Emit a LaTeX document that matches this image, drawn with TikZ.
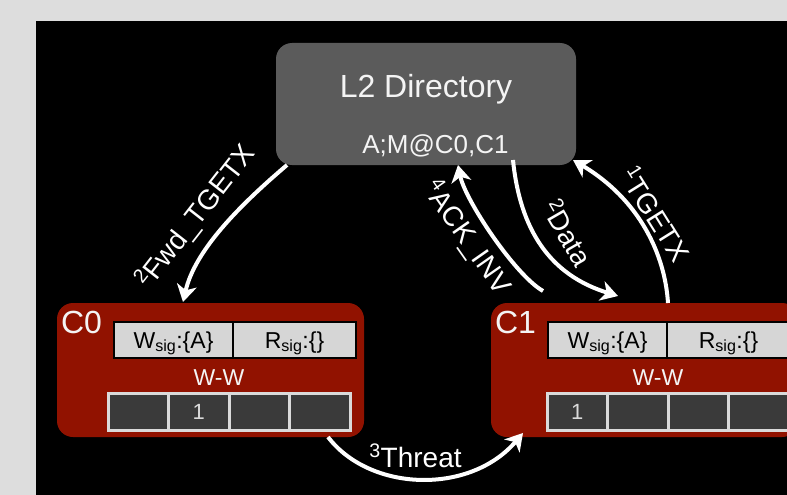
\documentclass[tikz,border=0pt]{standalone}
\usepackage{fontspec}
\setmainfont{Liberation Sans}
\usetikzlibrary{arrows.meta,calc}

\definecolor{pagegray}{HTML}{DDDDDD}
\definecolor{dirgray}{HTML}{5B5B5B}
\definecolor{corered}{RGB}{145,18,0}
\definecolor{sigfill}{HTML}{D6D6D6}
\definecolor{cellfill}{HTML}{3A3A3A}
\definecolor{cellline}{HTML}{DADADA}
\definecolor{softwhite}{HTML}{F4F4F4}

\begin{document}
\begin{tikzpicture}[x=1pt,y=-1pt,
  every node/.style={inner sep=0pt, outer sep=0pt},
  dirbox/.style={fill=dirgray, rounded corners=16pt, minimum width=300pt, minimum height=122pt},
  corebox/.style={fill=corered, rounded corners=16pt, minimum width=307pt, minimum height=134pt},
  sigbox/.style={draw=black, line width=2pt, fill=sigfill, minimum height=36pt,
    text height=16.5pt, text depth=0pt, font=\fontsize{23}{25}\selectfont},
  cell/.style={draw=cellline, line width=3pt, fill=cellfill, minimum width=60.5pt,
    minimum height=37pt, text=cellline, font=\fontsize{22}{24}\selectfont},
  whitetext/.style={text=softwhite},
  msg/.style={draw=white, line width=4pt, -{Stealth[length=17pt,width=20pt,inset=5pt]}},
  msglabel/.style={text=white, font=\fontsize{28}{30}\selectfont},
]
\useasboundingbox (0,0) rectangle (787,495);
\clip (0,0) rectangle (787,495);

% page and slide background
\fill[pagegray] (0,0) rectangle (787,495);
\fill[black] (36,21) rectangle (787,495);

% directory and the two cores
\node[dirbox] (l2) at (426,104) {};
\node[corebox] (c0) at (210.5,370) {};
\node[corebox] (c1) at (644.5,370) {};

% directory text
\node[whitetext, anchor=base, font=\fontsize{32}{34}\selectfont] (l2title) at (426,97) {L2 Directory};
\node[whitetext, anchor=base, font=\fontsize{26}{28}\selectfont] (l2state) at (435.5,153) {A;M@C0,C1};

% core C0
\node[whitetext, anchor=base west, font=\fontsize{32}{34}\selectfont] (c0name) at (61,333) {C0};
\node[sigbox, minimum width=119pt] (c0w) at (173.5,340) {W\textsubscript{sig}:\{A\}};
\node[sigbox, minimum width=123pt] (c0r) at (294.5,340) {R\textsubscript{sig}:\{\}};
\node[whitetext, anchor=base, font=\fontsize{23}{25}\selectfont] (c0mode) at (219,385) {W-W};
\node[cell] (c0a) at (138.25,411.5) {};
\node[cell] (c0b) at (198.75,411.5) {1};
\node[cell] (c0c) at (259.25,411.5) {};
\node[cell] (c0d) at (319.75,411.5) {};

% core C1
\node[whitetext, anchor=base west, font=\fontsize{32}{34}\selectfont] (c1name) at (495,333) {C1};
\node[sigbox, minimum width=119pt] (c1w) at (607.5,340) {W\textsubscript{sig}:\{A\}};
\node[sigbox, minimum width=123pt] (c1r) at (728.5,340) {R\textsubscript{sig}:\{\}};
\node[whitetext, anchor=base, font=\fontsize{23}{25}\selectfont] (c1mode) at (658,385) {W-W};
\node[cell] (c1a) at (577.25,411.5) {1};
\node[cell] (c1b) at (637.75,411.5) {};
\node[cell] (c1c) at (698.25,411.5) {};
\node[cell] (c1d) at (758.75,411.5) {};

% messages
\draw[msg] ($(l2.south west)+(11,0)$) .. controls (240,205) and (195,250) .. ($(c0.north)+(-27.5,-1)$);
\draw[msg] ($(c1.north west)+(52,-12)$) .. controls (515,275) and (465,200) .. ($(l2.south)+(32,0)$);
\draw[msg] ($(l2.south)+(87,-5)$) .. controls (520,230) and (550,275) .. ($(c1.north)+(-26.5,-7)$);
\draw[msg] ($(c1.north)+(23.5,0)$) .. controls (665,255) and (640,200) .. ($(l2.south east)+(-3,-5)$);
\draw[msg] ($(c0.south)+(117.5,0)$) .. controls (370,492) and (470,495) .. ($(c1.south west)+(32,-4)$);

% message labels
\node[msglabel, rotate=52] (lfwd) at (196,217) {\textsuperscript{2}Fwd\_TGETX};
\node[msglabel, rotate=-55] (lack) at (467,238) {\textsuperscript{4}ACK\_INV};
\node[msglabel, rotate=-60] (ldata) at (568,233) {\textsuperscript{2}Data};
\node[msglabel, rotate=-58] (ltgetx) at (656,214) {\textsuperscript{1}TGETX};
\node[msglabel, anchor=base] (lthreat) at (415.5,467) {\textsuperscript{3}Threat};
\end{tikzpicture}
\end{document}
